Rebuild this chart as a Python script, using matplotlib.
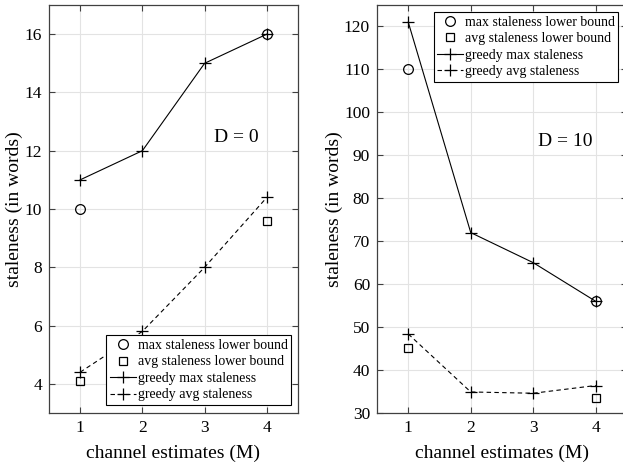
import matplotlib.pyplot as plt

plt.rcParams['font.family'] = ['Liberation Serif', 'DejaVu Serif']

# dados
M = [1, 2, 3, 4]

# D = 0
lb_max_x0 = [1, 4]
lb_max_y0 = [10, 16]
lb_avg_x0 = [1, 4]
lb_avg_y0 = [4.1, 9.6]
greedy_max0 = [11, 12, 15, 16]
greedy_avg0 = [4.4, 5.8, 8.0, 10.4]

# D = 10
lb_max_x10 = [1, 4]
lb_max_y10 = [110, 56]
lb_avg_x10 = [1, 4]
lb_avg_y10 = [45.2, 33.6]
greedy_max10 = [121, 72, 65, 56]
greedy_avg10 = [48.4, 34.9, 34.6, 36.4]

labels = ['max staleness lower bound', 'avg staleness lower bound',
          'greedy max staleness', 'greedy avg staleness']

W, H = 623, 463
fig = plt.figure(figsize=(W / 100, H / 100), dpi=100)

ax1 = fig.add_axes([49 / W, 1 - 413 / H, 249 / W, 408 / H])
ax2 = fig.add_axes([377 / W, 1 - 413 / H, 250 / W, 408 / H])


def desenha(ax, lbx, lby, lbax, lbay, gmax, gavg):
    ax.plot(lbx, lby, linestyle='none', marker='o', markersize=7,
            markerfacecolor='none', markeredgecolor='k', markeredgewidth=0.9, label=labels[0])
    ax.plot(lbax, lbay, linestyle='none', marker='s', markersize=6,
            markerfacecolor='none', markeredgecolor='k', markeredgewidth=0.9, label=labels[1])
    ax.plot(M, gmax, '-', color='k', marker='+', markersize=9, linewidth=0.8,
            markeredgewidth=0.9, label=labels[2])
    ax.plot(M, gavg, '--', color='k', marker='+', markersize=9, linewidth=0.8,
            markeredgewidth=0.9, label=labels[3], dashes=(4, 3))
    ax.set_xlim(0.5, 4.5)
    ax.set_xticks(M)
    ax.grid(True, color='#e3e3e3', linewidth=0.8)
    ax.set_axisbelow(True)
    ax.tick_params(direction='in', top=True, right=True, labelsize=12.5,
                   color='#404040', length=4, pad=5)
    for s in ax.spines.values():
        s.set_color('#404040')
        s.set_linewidth(0.9)
    ax.set_xlabel('channel estimates (M)', fontsize=14, labelpad=6)
    ax.set_ylabel('staleness (in words)', fontsize=14, labelpad=1)


def legenda(ax, **kw):
    leg = ax.legend(fontsize=10, frameon=True, fancybox=False, edgecolor='k',
                    framealpha=1, handlelength=1.9, handletextpad=0.1,
                    borderpad=0.25, labelspacing=0.25, borderaxespad=0, **kw)
    leg.get_frame().set_linewidth(0.8)
    return leg


desenha(ax1, lb_max_x0, lb_max_y0, lb_avg_x0, lb_avg_y0, greedy_max0, greedy_avg0)
ax1.set_ylim(3, 17)
ax1.set_yticks([4, 6, 8, 10, 12, 14, 16])
ax1.text(3.15, 12.45, 'D = 0', fontsize=14, va='center', ha='left')
legenda(ax1, loc='lower right', bbox_to_anchor=(0.972, 0.02))

desenha(ax2, lb_max_x10, lb_max_y10, lb_avg_x10, lb_avg_y10, greedy_max10, greedy_avg10)
ax2.set_ylim(30, 125)
ax2.set_yticks(range(30, 121, 10))
ax2.text(3.08, 93.2, 'D = 10', fontsize=14, va='center', ha='left')
legenda(ax2, loc='upper right', bbox_to_anchor=(0.965, 0.982))

plt.savefig('out.png', dpi=100)
